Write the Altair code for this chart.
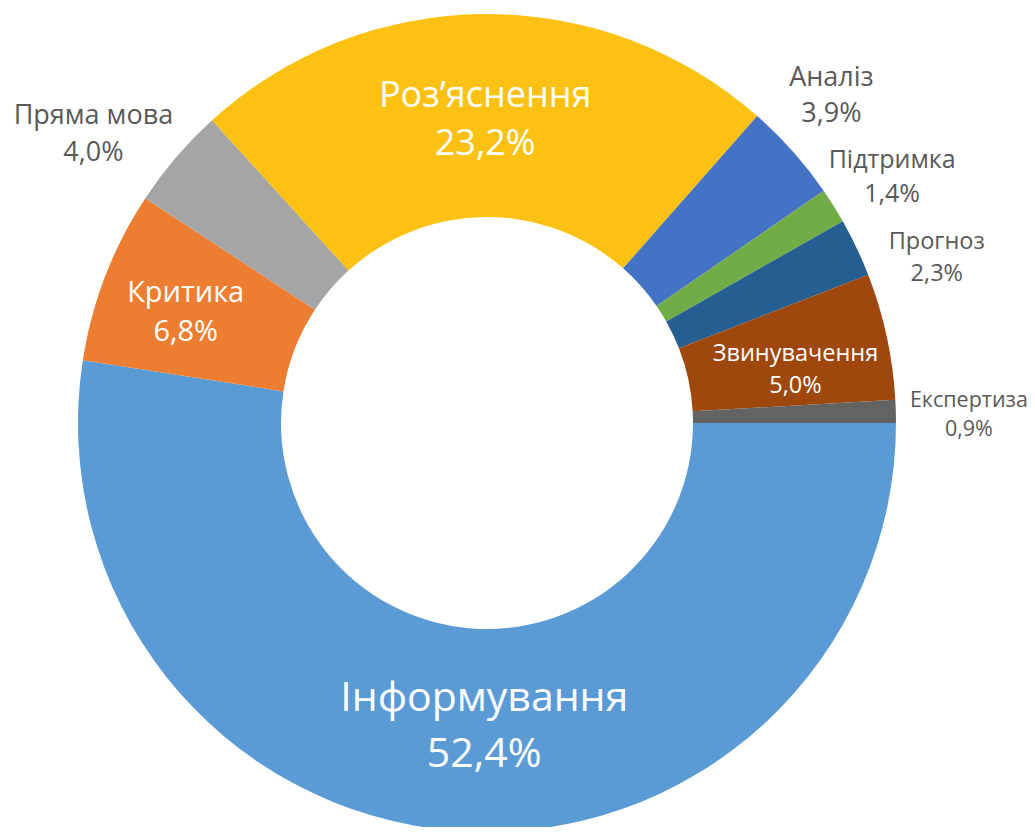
import math
import altair as alt
import pandas as pd

# ---- data ----
categories = ["Інформування", "Критика", "Пряма мова", "Роз’яснення", "Аналіз",
              "Підтримка", "Прогноз", "Звинувачення", "Експертиза"]
shares = [52.4, 6.8, 4.0, 23.2, 3.9, 1.4, 2.3, 5.0, 0.9]
pct_labels = ["52,4%", "6,8%", "4,0%", "23,2%", "3,9%", "1,4%", "2,3%", "5,0%", "0,9%"]
colors = ["#5B9BD5", "#ED7D31", "#A5A5A5", "#FCC112", "#4472C4",
          "#70AD47", "#255E91", "#9E480E", "#636363"]

# ---- label styling / placement (Excel best-fit nudges) ----
label_radius = [304, 321, 488, 303, 475, 474, 479, 313, 482]
label_nudge_deg = [-3.9, -0.9, -4.3, 0.1, -1.9, 0.8, 5.3, 2.5, 0.7]
label_size = [41, 29, 27, 36, 27, 25, 23.5, 23.5, 21.5]
label_inside = [True, True, False, True, False, False, False, True, False]

total = sum(shares)
df = pd.DataFrame({
    "idx": list(range(len(categories))),
    "cat": categories,
    "share": shares,
    "label": [f"{c}\n{p}" for c, p in zip(categories, pct_labels)],
    "r": label_radius,
    "nudge": [d / 360.0 * total for d in label_nudge_deg],
    "fs": label_size,
    "tc": ["#FFFFFF" if i else "#595959" for i in label_inside],
})

CX, CY = 479, 415
theta_scale = alt.Scale(domain=[0, total], range=[math.pi / 2, math.pi / 2 + 2 * math.pi])

base = alt.Chart(df)

arcs = base.mark_arc(innerRadius=206, outerRadius=409, stroke=None).encode(
    theta=alt.Theta("share:Q", stack=True, scale=theta_scale),
    order=alt.Order("idx:Q"),
    color=alt.Color("cat:N", scale=alt.Scale(domain=categories, range=colors), legend=None),
    x=alt.value(CX),
    y=alt.value(CY),
)

texts = base.transform_window(
    cum="sum(share)", sort=[alt.SortField("idx")], frame=[None, 0]
).transform_calculate(
    mid="datum.cum - datum.share / 2 + datum.nudge"
).mark_text(
    lineBreak="\n", font="Open Sans", align="center", baseline="middle",
    lineHeight={"expr": "datum.fs * 1.35"},
    dy={"expr": "-datum.fs * 0.675"},
).encode(
    theta=alt.Theta("mid:Q", scale=theta_scale, stack=None),
    radius=alt.Radius("r:Q", scale=None),
    text="label:N",
    size=alt.Size("fs:Q", scale=None),
    fill=alt.Fill("tc:N", scale=None),
    x=alt.value(CX),
    y=alt.value(CY),
)

chart = alt.layer(arcs, texts).properties(
    width=1019, height=819, padding=0, autosize="none"
).configure_view(stroke=None)

chart.save("out.html", embed_options={"renderer": "svg", "actions": False})
